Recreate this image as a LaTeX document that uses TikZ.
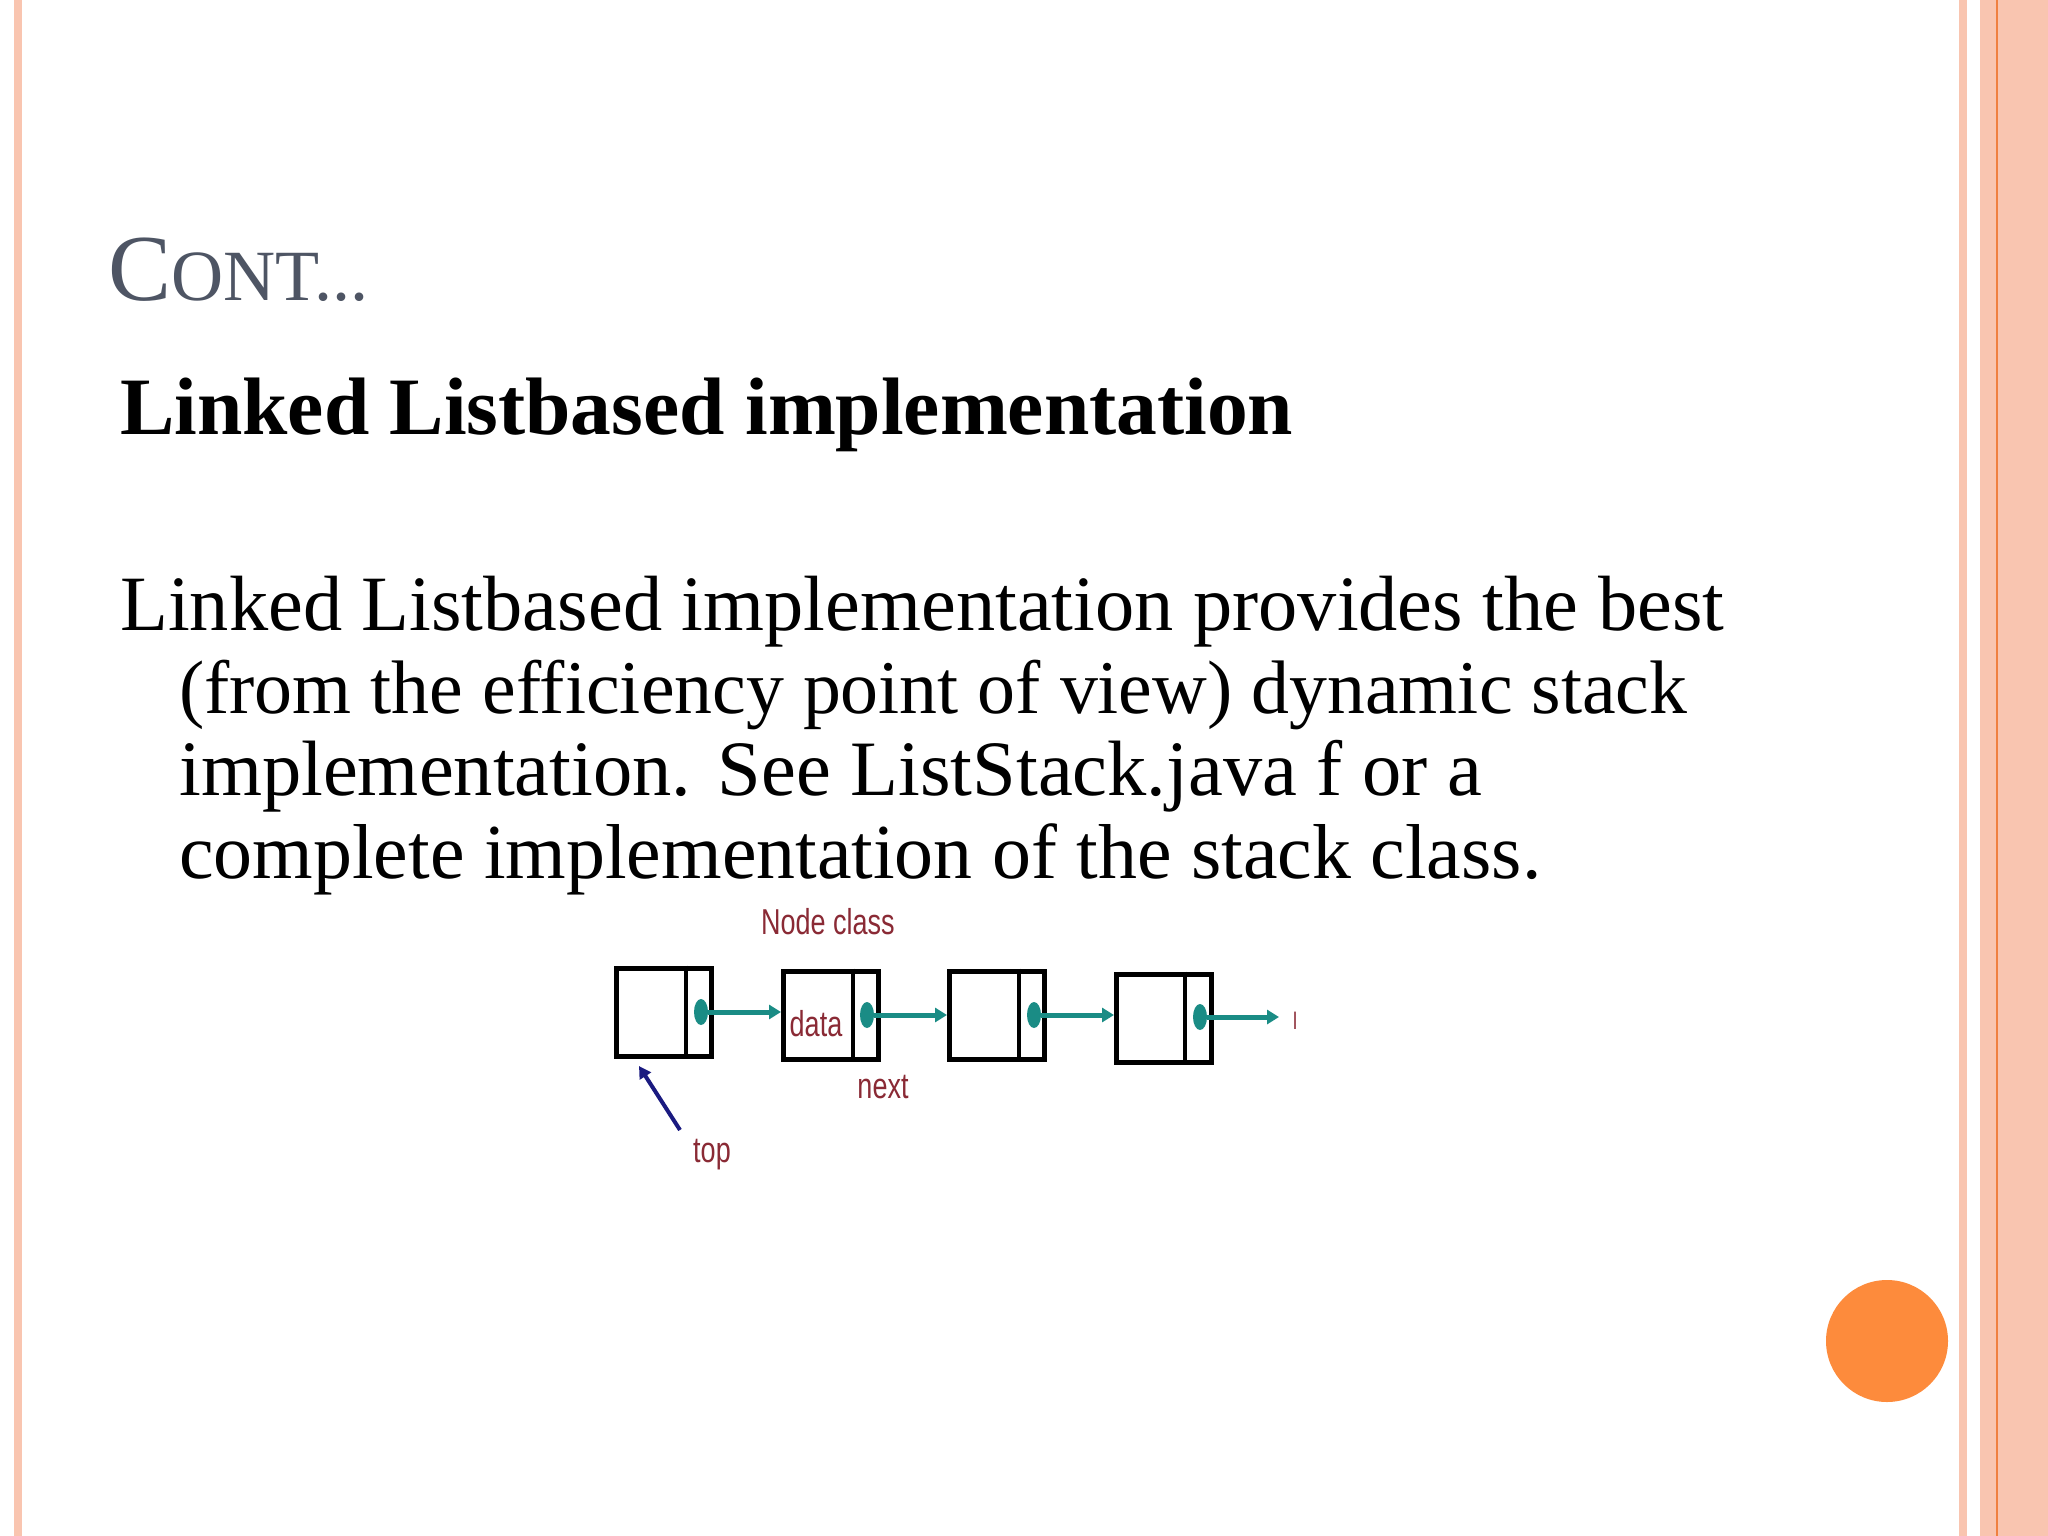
\documentclass[tikz,border=0pt]{standalone}
\usepackage{fontspec}
\setmainfont{Liberation Serif}
\newfontfamily\lsans{Liberation Sans}
\usetikzlibrary{arrows.meta,shapes.geometric}
\definecolor{pinkb}{HTML}{F9C5B0}
\definecolor{orangel}{HTML}{F08040}
\definecolor{titleg}{HTML}{4E5564}
\definecolor{teal}{HTML}{1A8C85}
\definecolor{dred}{HTML}{8A2A35}
\definecolor{navy}{HTML}{1A1A80}
\definecolor{circ}{HTML}{FD8B3C}
\tikzset{
 cell/.style={draw=black,line width=5pt,inner sep=0pt,minimum width=95pt,minimum height=88pt},
 lbl/.style={font=\lsans\fontsize{36}{36}\selectfont,text=dred,xscale=0.75,inner sep=0pt},
 link/.style={teal,line width=5pt,-{Triangle[length=12pt,width=14pt]}},
 dotc/.style={fill=teal,draw=none,ellipse,minimum width=14pt,minimum height=26pt,inner sep=0pt},
 body/.style={anchor=base west,inner sep=0pt,text=black}
}
\begin{document}
\begin{tikzpicture}[x=1pt,y=-1pt]
\useasboundingbox (0,0) rectangle (2048,1536);
\fill[white] (0,0) rectangle (2048,1536);
% borders
\fill[pinkb] (14,0) rectangle (22,1536);
\fill[pinkb] (1959,0) rectangle (1967,1536);
\fill[pinkb] (1980,0) rectangle (2048,1536);
\fill[orangel] (1996,0) rectangle (1998,1536);
\fill[circ] (1887,1341) circle (61);
% title
\node[body,text=titleg] (title) at (108,300) {\resizebox{260pt}{!}{\fontsize{76}{76}\selectfont C\fontsize{58}{58}\selectfont ONT...}};
\node[body] (head) at (120,434) {\resizebox{1173pt}{!}{\fontsize{50}{50}\selectfont\bfseries Linked Listbased implementation}};
\node[body] (l1) at (120,630) {\resizebox{1604pt}{!}{\fontsize{62}{62}\selectfont Linked Listbased implementation provides the best}};
\node[body] (l2) at (179,713) {\resizebox{1508pt}{!}{\fontsize{62}{62}\selectfont (from the efficiency point of view) dynamic stack}};
\node[body] (l3) at (179,795) {\resizebox{1303pt}{!}{\fontsize{62}{62}\selectfont implementation. See ListStack.java f or a}};
\node[body] (l4) at (179,878) {\resizebox{1362pt}{!}{\fontsize{62}{62}\selectfont complete implementation of the stack class.}};
% linked list
\node[cell] (b1) at (664,1012) {};
\node[cell] (b2) at (831,1015) {};
\node[cell] (b3) at (997,1015) {};
\node[cell] (b4) at (1164,1018) {};
\foreach \b/\d in {b1/686,b2/853,b3/1019,b4/1185}{
  \draw[line width=4pt] (\d,0 |- \b.north) -- (\d,0 |- \b.south);
}
\node[dotc] (d1) at (701,1012) {};
\node[dotc] (d2) at (867,1015) {};
\node[dotc] (d3) at (1034,1015) {};
\node[dotc] (d4) at (1200,1017) {};
\coordinate (e) at (1279,1017);
\draw[link] (d1) -- (b2.west |- d1);
\draw[link] (d2) -- (b3.west |- d2);
\draw[link] (d3) -- (b4.west |- d3);
\draw[link] (d4) -- (e);
\node[lbl] (nc) at (828,922) {Node class};
\node[lbl] (data) at (816,1024) {data};
\node[lbl] (next) at (883,1087) {next};
\node[lbl] (top) at (712,1155) {top};
\node[lbl,font=\lsans\fontsize{24}{24}\selectfont] (nul) at (1295,1021) {l};
\coordinate (ts) at (680,1130);
\coordinate (th) at (639,1066);
\draw[navy,line width=4pt,-{Triangle[length=12pt,width=13pt]}] (ts) -- (th);
\end{tikzpicture}
\end{document}
